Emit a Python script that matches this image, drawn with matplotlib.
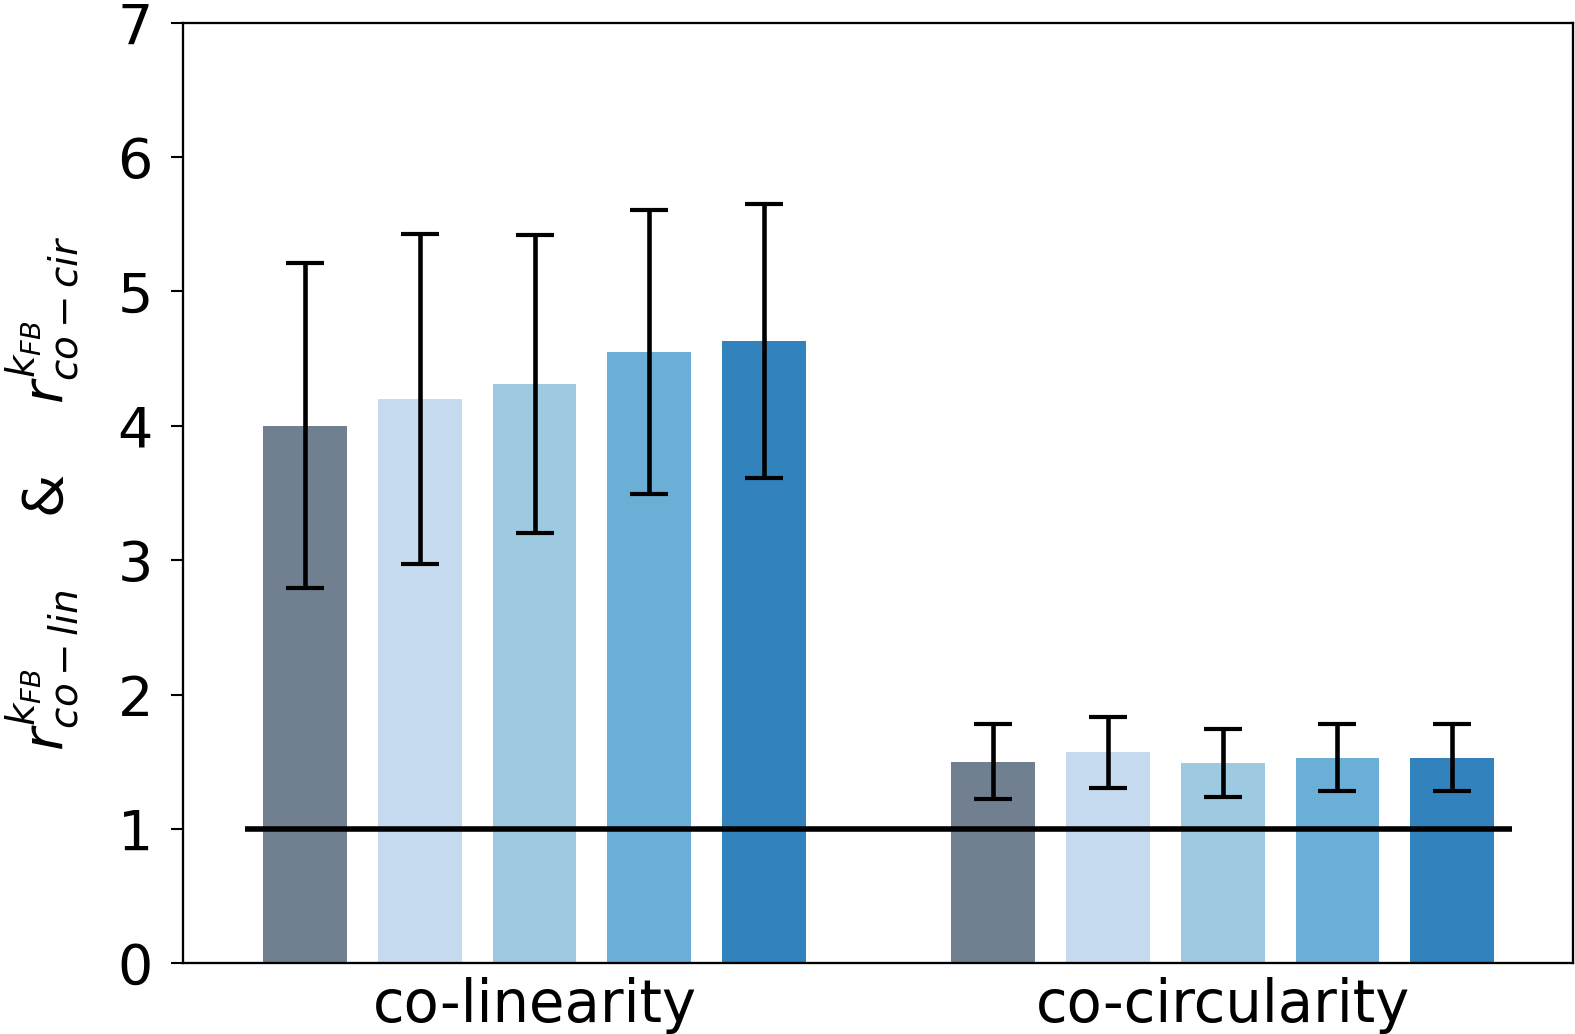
import matplotlib
matplotlib.use("Agg")
import matplotlib.pyplot as plt
import numpy as np

# valores
grupos = ["co-linearity", "co-circularity"]
colores = ["#708090", "#c6dbef", "#9ecae1", "#6baed6", "#3182bd"]

lin_media = [4.00, 4.20, 4.31, 4.55, 4.63]
lin_error = [1.21, 1.23, 1.11, 1.06, 1.02]

cir_media = [1.50, 1.57, 1.49, 1.53, 1.53]
cir_error = [0.28, 0.265, 0.25, 0.25, 0.25]

referencia = 1.0

fig = plt.figure(figsize=(15.75, 10.34), dpi=100)
ax = fig.add_axes([0.1165, 0.0684, 0.882, 0.9096])

n = len(colores)
x_lin = np.arange(n)
x_cir = np.arange(n) + n + 1
ancho = 0.73

err_kw = dict(elinewidth=3.3, capthick=3, ecolor="black")
for i in range(n):
    ax.bar(x_lin[i], lin_media[i], ancho, color=colores[i], yerr=lin_error[i],
           capsize=14, error_kw=err_kw, zorder=2)
    ax.bar(x_cir[i], cir_media[i], ancho, color=colores[i], yerr=cir_error[i],
           capsize=14, error_kw=err_kw, zorder=2)

ax.plot([x_lin[0] - 0.525, x_cir[-1] + 0.52], [referencia, referencia],
        color="black", linewidth=4, zorder=4, solid_capstyle="butt")

ax.set_xlim(-1.06, 11.05)
ax.set_ylim(0, 7)
ax.set_yticks(range(0, 8))
ax.set_xticks([x_lin[2], x_cir[2]])
ax.set_xticklabels(grupos)

ax.tick_params(axis="y", labelsize=40, length=9, width=1.5, pad=13)
ax.tick_params(axis="x", labelsize=41.5, length=0, pad=10)
for s in ax.spines.values():
    s.set_linewidth(1.65)

ax.set_ylabel(r"$r^{k_{FB}}_{co-lin}$    &    $r^{k_{FB}}_{co-cir}$",
              fontsize=40, labelpad=26)

fig.savefig("out.png", dpi=100)
